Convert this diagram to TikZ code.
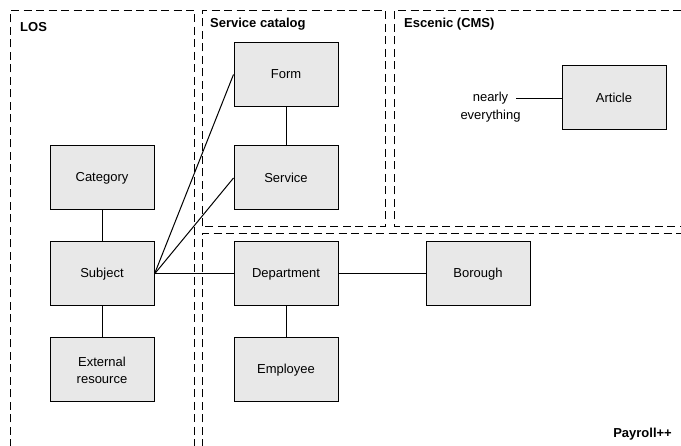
\documentclass[tikz,border=0pt]{standalone}
\usepackage{fontspec}
\setmainfont{Liberation Sans}
\begin{document}
\begin{tikzpicture}[x=1pt,y=-1pt,
  ent/.style={draw=black,line width=1pt,fill=black!9,minimum width=104pt,minimum height=64pt,inner sep=0pt,font=\fontsize{13}{17}\selectfont,align=center},
  zone/.style={draw=black,line width=1.7pt,dash pattern=on 8pt off 4.5pt},
  ztitle/.style={font=\bfseries\fontsize{13}{16}\selectfont,inner sep=0pt},
  conn/.style={draw=black,line width=1pt}]
\useasboundingbox (0,0) rectangle (681,446);
\clip (0,0) rectangle (681,446);
% zones
\draw[zone] (10.5,460) -- (10.5,10.5) -- (194.5,10.5) -- (194.5,460);
\draw[zone] (202.5,226.5) -- (202.5,10.5) -- (385.5,10.5) -- (385.5,226.5) -- cycle;
\draw[zone] (700,226.5) -- (394.5,226.5) -- (394.5,10.5) -- (700,10.5);
\draw[zone] (202.5,460) -- (202.5,233.5) -- (700,233.5);
\node[ztitle,anchor=west] (los) at (20,27) {LOS};
\node[ztitle,anchor=west] (svc) at (210,24) {Service catalog};
\node[ztitle,anchor=west] (esc) at (404,24) {Escenic (CMS)};
\node[ztitle,anchor=east] (pay) at (672,434) {Payroll++};
% entities
\node[ent] (form) at (286,74.5) {Form};
\node[ent] (service) at (286,178) {Service};
\node[ent] (category) at (102,178) {Category};
\node[ent] (subject) at (102,274) {Subject};
\node[ent] (external) at (102,370) {External\\resource};
\node[ent] (department) at (286,274) {Department};
\node[ent] (employee) at (286,370) {Employee};
\node[ent] (borough) at (478,274) {Borough};
\node[ent] (article) at (614,98) {Article};
\node[font=\fontsize{13}{18}\selectfont,align=center,inner sep=0pt] (nearly) at (490.5,107) {nearly\\everything};
\coordinate (nearlyend) at (516,99);
% connectors
\draw[conn] (form) -- (service);
\draw[conn] (category) -- (subject);
\draw[conn] (subject) -- (external);
\draw[conn] (department) -- (employee);
\draw[conn] (subject.east) -- (department.west);
\draw[conn] (department) -- (borough);
\draw[conn] (subject.east) -- (form.west);
\draw[conn] (subject.east) -- (service.west);
\draw[conn] (nearlyend) -- (article.west |- nearlyend);
\end{tikzpicture}
\end{document}
